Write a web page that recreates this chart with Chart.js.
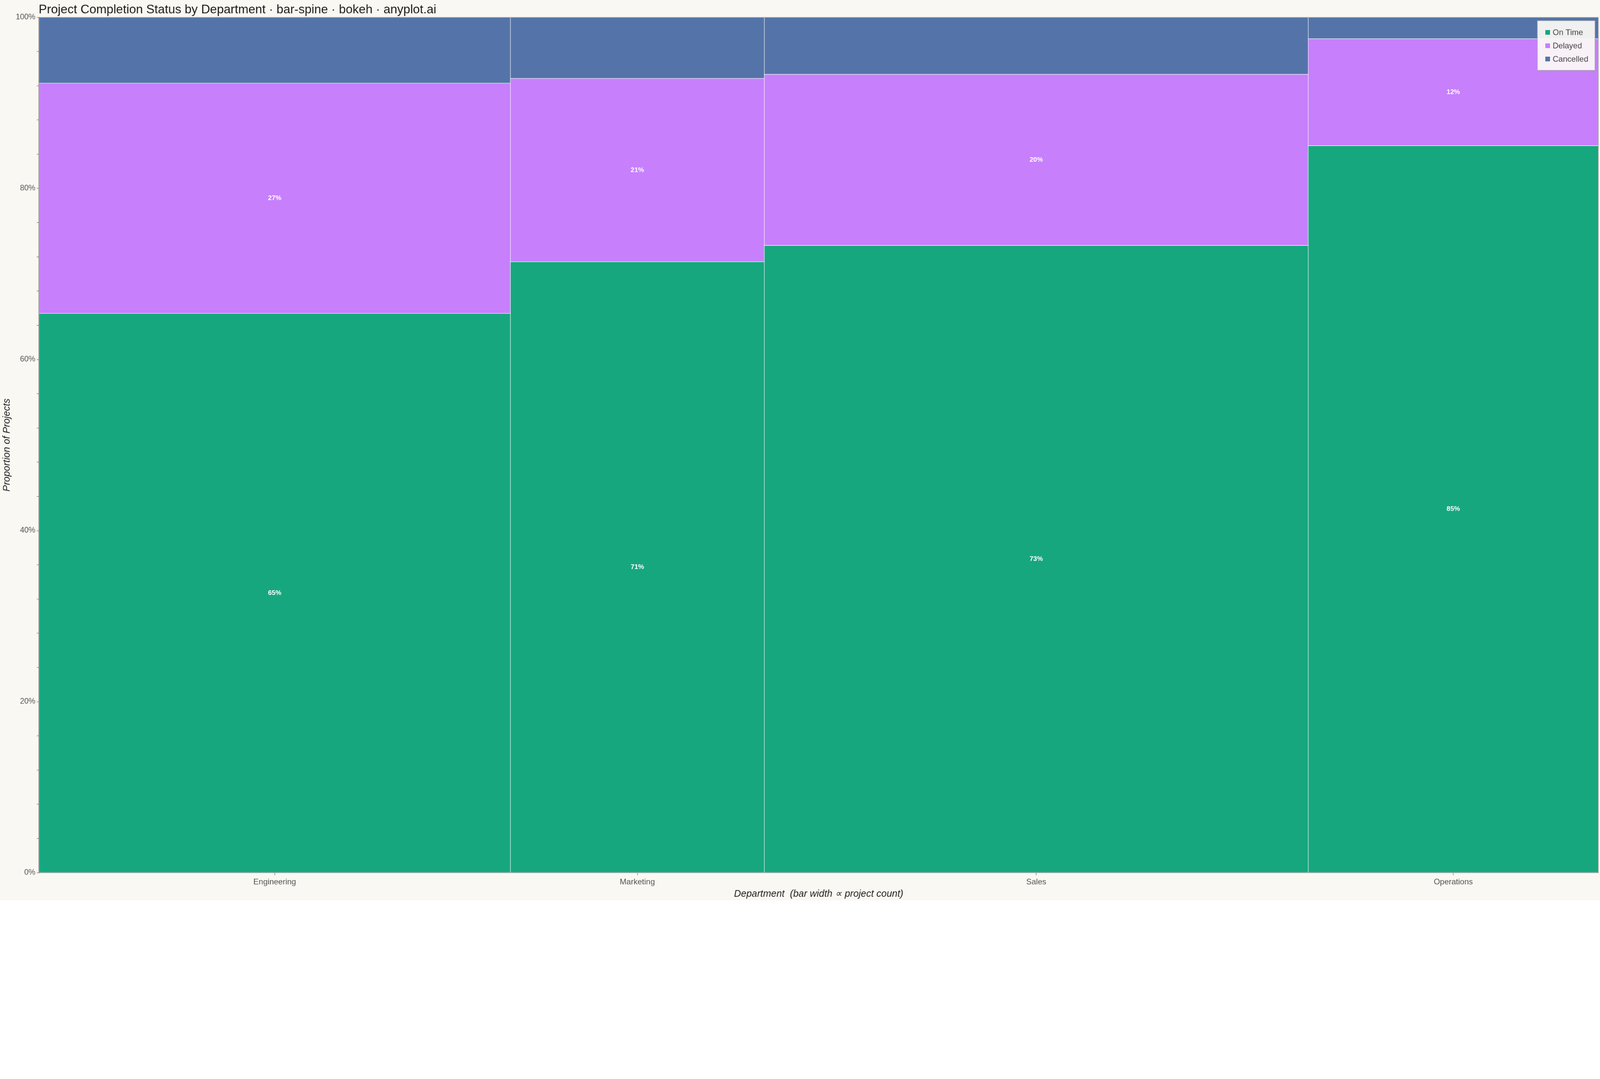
<!DOCTYPE html>
<html>
<head>
<meta charset="utf-8">
<title>Project Completion Status by Department</title>
<script src="https://cdn.jsdelivr.net/npm/chart.js@4.4.1/dist/chart.umd.min.js"></script>
<style>
  html, body { margin: 0; padding: 0; background: #ffffff; overflow: hidden; }
  #spineChart { display: block; width: 100%; height: auto; }
</style>
</head>
<body>
<canvas id="spineChart" width="4800" height="2700" style="width:100%;height:auto"></canvas>
<script>
// data
var departments = ["Engineering", "Marketing", "Sales", "Operations"];
var statuses = ["On Time", "Delayed", "Cancelled"];
var onTime = [85, 50, 110, 68];
var delayed = [35, 15, 30, 10];
var cancelled = [10, 5, 10, 2];
var statusColors = ["#16a77f", "#c77ffc", "#5474a9"];
var yTicks = [0, 20, 40, 60, 80, 100];

var titleText = "Project Completion Status by Department \u00b7 bar-spine \u00b7 bokeh \u00b7 anyplot.ai";
var fontFamily = "'Liberation Sans', Arial, sans-serif";

// bar width is the project count, bar centre sits halfway along the running total
var deptTotals = departments.map(function(d, i) { return onTime[i] + delayed[i] + cancelled[i]; });
var grandTotal = deptTotals.reduce(function(a, b) { return a + b; }, 0);
var deptCenters = [];
var running = 0;
deptTotals.forEach(function(t) {
  deptCenters.push(running + t / 2);
  running += t;
});

var datasets = departments.map(function(dept, i) {
  var pOn = onTime[i] / deptTotals[i] * 100;
  var pDel = delayed[i] / deptTotals[i] * 100;
  return {
    label: dept,
    data: [
      {x: deptCenters[i], y: [0, pOn], share: pOn},
      {x: deptCenters[i], y: [pOn, pOn + pDel], share: pDel},
      {x: deptCenters[i], y: [pOn + pDel, 100], share: 100 - pOn - pDel}
    ],
    backgroundColor: statusColors,
    borderColor: "#ffffff",
    borderWidth: 1,
    borderSkipped: false,
    grouped: false,
    barThickness: function(ctx) {
      var xs = ctx.chart.scales.x;
      if (!xs) return 1;
      return Math.abs(xs.getPixelForValue(deptTotals[ctx.datasetIndex]) - xs.getPixelForValue(0));
    }
  };
});

// python style rounding so 12.5 shows as 12%
function roundHalfEven(v) {
  var r = Math.round(v);
  if (Math.abs(v - Math.trunc(v)) === 0.5 && r % 2 !== 0) r -= 1;
  return r;
}

var backgroundPlugin = {
  id: "cream",
  beforeDraw: function(chart) {
    var ctx = chart.ctx;
    ctx.save();
    ctx.fillStyle = "#faf8f2";
    ctx.fillRect(0, 0, chart.width, chart.height);
    ctx.restore();
  }
};

var labelPlugin = {
  id: "shareLabels",
  afterDatasetsDraw: function(chart) {
    var ctx = chart.ctx;
    ctx.save();
    ctx.fillStyle = "#ffffff";
    ctx.font = "bold 20px " + fontFamily;
    ctx.textAlign = "center";
    ctx.textBaseline = "middle";
    chart.data.datasets.forEach(function(ds, i) {
      var meta = chart.getDatasetMeta(i);
      meta.data.forEach(function(bar, j) {
        var share = ds.data[j].share;
        if (share < 10) return;
        ctx.fillText(roundHalfEven(share) + "%", bar.x, (bar.y + bar.base) / 2);
      });
    });
    ctx.restore();
  }
};

var frameAndLegendPlugin = {
  id: "frameLegend",
  afterDraw: function(chart) {
    var ctx = chart.ctx;
    var area = chart.chartArea;
    ctx.save();
    // outline on the top and right
    ctx.strokeStyle = "#9a9a9a";
    ctx.lineWidth = 1.5;
    ctx.beginPath();
    ctx.moveTo(area.left, area.top);
    ctx.lineTo(area.right, area.top);
    ctx.lineTo(area.right, area.bottom);
    ctx.stroke();

    // title, left aligned on the plot
    ctx.fillStyle = "#1c1c1c";
    ctx.font = "37px " + fontFamily;
    ctx.textAlign = "left";
    ctx.textBaseline = "alphabetic";
    ctx.fillText(titleText, area.left - 1, 40);

    // legend box in the top right corner
    var boxW = 173, boxH = 149;
    var bx = area.right - 10 - boxW, by = area.top + 10;
    ctx.fillStyle = "rgba(252, 250, 246, 0.93)";
    ctx.fillRect(bx, by, boxW, boxH);
    ctx.strokeStyle = "#a0a0a0";
    ctx.lineWidth = 1.5;
    ctx.strokeRect(bx, by, boxW, boxH);
    ctx.font = "24px " + fontFamily;
    ctx.textBaseline = "middle";
    statuses.forEach(function(s, k) {
      var cy = by + 35 + k * 40;
      ctx.fillStyle = statusColors[k];
      ctx.fillRect(bx + 24, cy - 7, 14, 14);
      ctx.fillStyle = "#444444";
      ctx.fillText(s, bx + 46, cy + 1);
    });
    ctx.restore();
  }
};

var chart = new Chart(document.getElementById("spineChart"), {
  type: "bar",
  data: { datasets: datasets },
  plugins: [backgroundPlugin, labelPlugin, frameAndLegendPlugin],
  options: {
    responsive: false,
    animation: false,
    devicePixelRatio: 1,
    font: { family: fontFamily },
    layout: { padding: { top: 52, right: 5, bottom: 0, left: 0 } },
    plugins: {
      legend: { display: false },
      title: { display: false },
      tooltip: { enabled: false }
    },
    scales: {
      x: {
        type: "linear",
        min: 0,
        max: grandTotal,
        offset: false,
        afterBuildTicks: function(scale) {
          scale.ticks = deptCenters.map(function(v) { return { value: v }; });
        },
        afterFit: function(scale) { scale.height = 83; },
        ticks: {
          autoSkip: false,
          maxRotation: 0,
          padding: 6,
          color: "#555555",
          font: { size: 24, family: fontFamily },
          callback: function(value) {
            var k = deptCenters.indexOf(value);
            return k >= 0 ? departments[k] : "";
          }
        },
        grid: { offset: false, drawOnChartArea: false, drawTicks: true, tickLength: 8, color: "#444444" },
        border: { display: true, color: "#444444", width: 1.5 },
        title: {
          display: true,
          text: "Department  (bar width \u221d project count)",
          color: "#222222",
          font: { size: 29, style: "italic", family: fontFamily },
          padding: { top: 0, bottom: 2 }
        }
      },
      y: {
        min: 0,
        max: 100,
        afterFit: function(scale) { scale.width = 117; },
        ticks: {
          stepSize: 4,
          autoSkip: false,
          padding: 4,
          color: "#555555",
          font: { size: 23, family: fontFamily },
          callback: function(value) {
            return yTicks.indexOf(value) >= 0 ? value + "%" : "";
          }
        },
        grid: { drawOnChartArea: false, drawTicks: true, tickLength: 7, color: "#444444" },
        border: { display: true, color: "#444444", width: 1.5 },
        title: {
          display: true,
          text: "Proportion of Projects",
          color: "#222222",
          font: { size: 29, style: "italic", family: fontFamily },
          padding: { top: 4, bottom: 0 }
        }
      }
    }
  }
});
</script>
</body>
</html>
